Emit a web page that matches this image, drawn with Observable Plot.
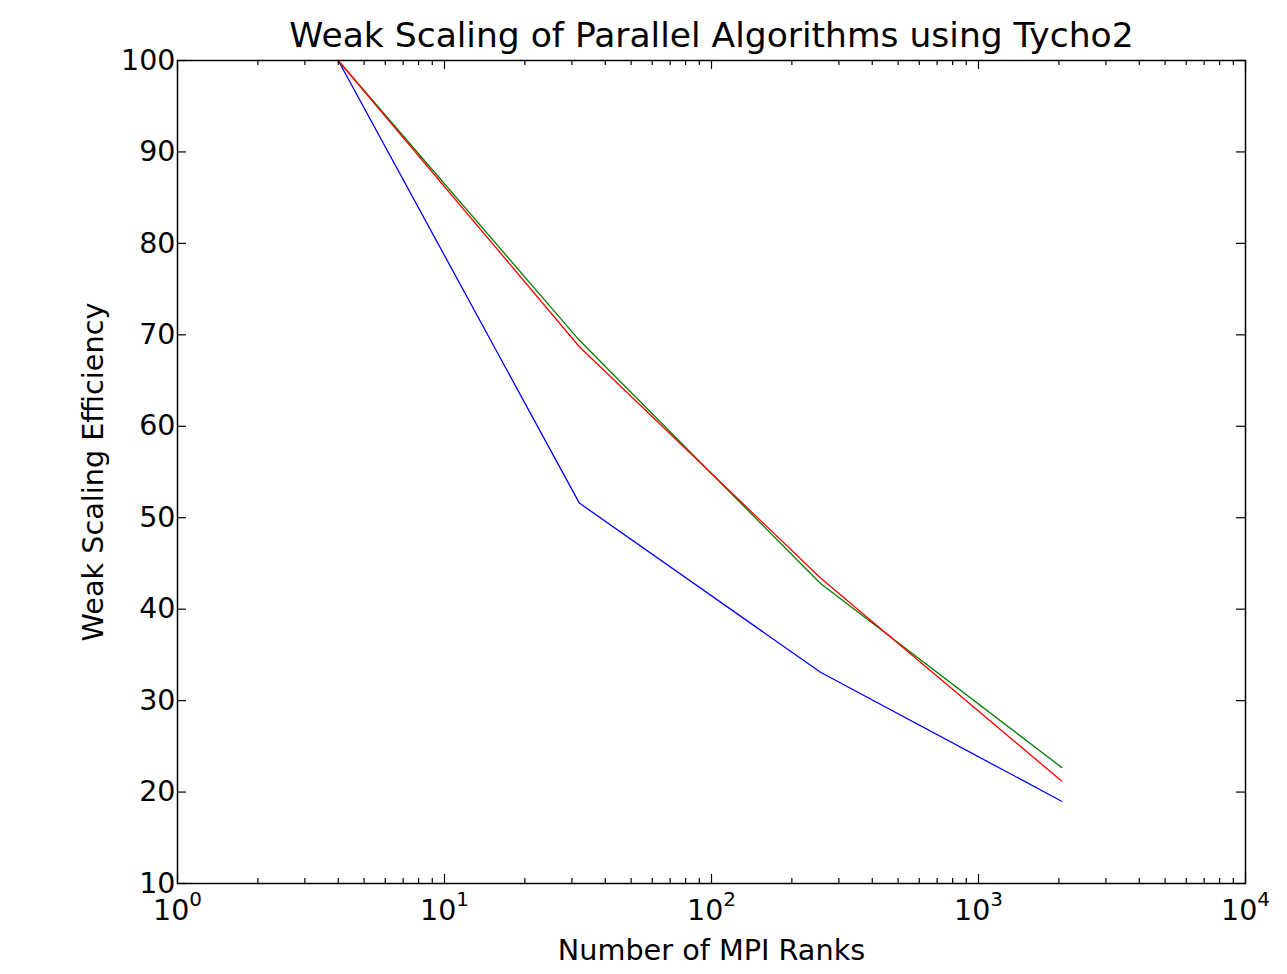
<!DOCTYPE html>
<html>
<head>
<meta charset="utf-8">
<script src="https://cdn.jsdelivr.net/npm/d3@7"></script>
<script src="https://cdn.jsdelivr.net/npm/@observablehq/plot@0.6"></script>
<style>
  html, body { margin: 0; padding: 0; background: #fff; }
  #chart svg { display: block; }
</style>
</head>
<body>
<div id="chart"></div>
<script>
// ---- data ----
const ranks = [4, 32, 256, 2048];
const seriesBlue = [100, 51.6, 33.1, 19.0];
const seriesGreen = [100, 69.4, 42.8, 22.7];
const seriesRed = [100, 68.7, 43.4, 21.2];
const seriesNames = ["blue", "green", "red"];
const seriesColors = ["#0000ff", "#008000", "#ff0000"];
const xMajorTicks = [1, 10, 100, 1000, 10000];
const yTicks = [10, 20, 30, 40, 50, 60, 70, 80, 90, 100];
const titleText = "Weak Scaling of Parallel Algorithms using Tycho2";
const xLabel = "Number of MPI Ranks";
const yLabel = "Weak Scaling Efficiency";

const xMinorTicks = [];
for (let e = 0; e < 4; e++) for (let m = 2; m <= 9; m++) xMinorTicks.push(m * Math.pow(10, e));

const rows = [];
[seriesBlue, seriesGreen, seriesRed].forEach((vals, si) => {
  vals.forEach((v, i) => rows.push({series: seriesNames[si], ranks: ranks[i], eff: v}));
});

const fmtPow = d => "10^" + Math.round(Math.log10(d));

const W = 1287, H = 974, mL = 177, mR = 42, mT = 60, mB = 91;
const fw = W - mL - mR, fh = H - mT - mB;
const font = "DejaVu Sans, sans-serif";
const fs = 28.5;

const chart = Plot.plot({
  width: W, height: H,
  marginLeft: mL, marginRight: mR, marginTop: mT, marginBottom: mB,
  style: {fontFamily: font, background: "#fff", color: "#000"},
  x: {type: "log", domain: [1, 10000], axis: null},
  y: {domain: [10, 100], axis: null},
  color: {domain: seriesNames, range: seriesColors},
  marks: [
    Plot.lineY(rows, {x: "ranks", y: "eff", z: "series", stroke: "series", strokeWidth: 1.3}),
    // inward ticks
    Plot.ruleX(xMajorTicks, {x: d => d, insetTop: fh - 9, stroke: "#000", strokeWidth: 1.2}),
    Plot.ruleX(xMajorTicks, {x: d => d, insetBottom: fh - 9, stroke: "#000", strokeWidth: 1.2}),
    Plot.ruleX(xMinorTicks, {x: d => d, insetTop: fh - 5, stroke: "#000", strokeWidth: 1.2}),
    Plot.ruleX(xMinorTicks, {x: d => d, insetBottom: fh - 5, stroke: "#000", strokeWidth: 1.2}),
    Plot.ruleY(yTicks, {y: d => d, insetRight: fw - 9, stroke: "#000", strokeWidth: 1.2}),
    Plot.ruleY(yTicks, {y: d => d, insetLeft: fw - 9, stroke: "#000", strokeWidth: 1.2}),
    Plot.frame({stroke: "#000", strokeWidth: 1.5}),
    // tick labels
    Plot.text(xMajorTicks, {x: d => d, text: fmtPow, frameAnchor: "bottom", lineAnchor: "top", dy: 16, fontSize: fs, fill: "#000", ariaLabel: "x-tick-labels"}),
    Plot.text(yTicks, {y: d => d, text: d => String(d), frameAnchor: "left", textAnchor: "end", lineAnchor: "middle", dx: -2, fontSize: fs, fill: "#000"}),
    // titles
    Plot.text([titleText], {text: d => d, frameAnchor: "top", dy: -25, lineAnchor: "middle", fontSize: 34.5, fill: "#000"}),
    Plot.text([xLabel], {text: d => d, frameAnchor: "bottom", dy: 67, lineAnchor: "middle", fontSize: 28.7, fill: "#000"}),
    Plot.text([yLabel], {text: d => d, frameAnchor: "left", dx: -84, rotate: -90, textAnchor: "middle", lineAnchor: "middle", fontSize: 28.7, fill: "#000"})
  ]
});

// render "10^n" as 10 with a real superscript tspan
d3.select(chart).selectAll("text").each(function() {
  const t = d3.select(this);
  const s = t.text();
  const m = s.match(/^10\^(\d+)$/);
  if (!m) return;
  t.text(null);
  t.append("tspan").text("10");
  t.append("tspan").attr("dy", -0.5 * fs).attr("font-size", 0.7 * fs).text(m[1]);
});

document.getElementById("chart").appendChild(chart);
</script>
</body>
</html>
